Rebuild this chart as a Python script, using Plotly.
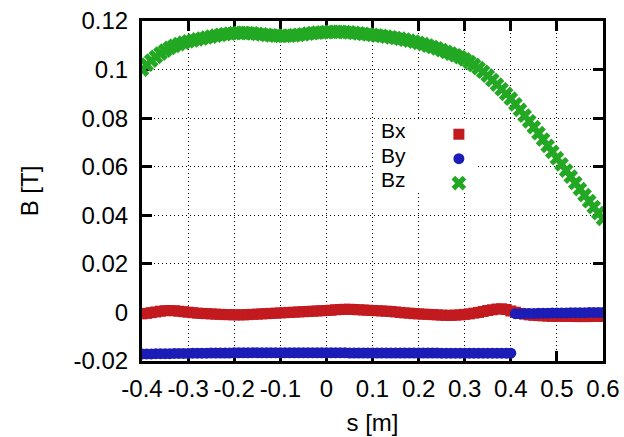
import plotly.graph_objects as go

# ---- data ----
s = [-0.40, -0.39, -0.38, -0.37, -0.36, -0.35, -0.34, -0.33, -0.32, -0.31,
     -0.30, -0.29, -0.28, -0.27, -0.26, -0.25, -0.24, -0.23, -0.22, -0.21,
     -0.20, -0.19, -0.18, -0.17, -0.16, -0.15, -0.14, -0.13, -0.12, -0.11,
     -0.10, -0.09, -0.08, -0.07, -0.06, -0.05, -0.04, -0.03, -0.02, -0.01,
     0.00, 0.01, 0.02, 0.03, 0.04, 0.05, 0.06, 0.07, 0.08, 0.09,
     0.10, 0.11, 0.12, 0.13, 0.14, 0.15, 0.16, 0.17, 0.18, 0.19,
     0.20, 0.21, 0.22, 0.23, 0.24, 0.25, 0.26, 0.27, 0.28, 0.29,
     0.30, 0.31, 0.32, 0.33, 0.34, 0.35, 0.36, 0.37, 0.38, 0.39,
     0.40, 0.41, 0.42, 0.43, 0.44, 0.45, 0.46, 0.47, 0.48, 0.49,
     0.50, 0.51, 0.52, 0.53, 0.54, 0.55, 0.56, 0.57, 0.58, 0.59, 0.60]

Bx = [-0.0006, -0.0004, -0.0001, 0.0002, 0.0005, 0.0007, 0.0008, 0.0007, 0.0005, 0.0003,
      0.0001, -0.0001, -0.0003, -0.0004, -0.0005, -0.0006, -0.0007, -0.0008, -0.0009, -0.0009,
      -0.0010, -0.0010, -0.0010, -0.0009, -0.0008, -0.0007, -0.0006, -0.0005, -0.0004, -0.0003,
      -0.0002, -0.0001, 0.0000, 0.0001, 0.0002, 0.0003, 0.0004, 0.0005, 0.0006, 0.0007,
      0.0008, 0.0009, 0.0011, 0.0012, 0.0013, 0.0013, 0.0012, 0.0011, 0.0010, 0.0009,
      0.0008, 0.0007, 0.0006, 0.0005, 0.0004, 0.0002, 0.0000, -0.0002, -0.0003, -0.0005,
      -0.0006, -0.0007, -0.0008, -0.0009, -0.0010, -0.0011, -0.0012, -0.0012, -0.0011, -0.0010,
      -0.0008, -0.0006, -0.0003, 0.0000, 0.0004, 0.0008, 0.0011, 0.0014, 0.0015, 0.0012,
      0.0006, 0.0001, -0.0004, -0.0007, -0.0010, -0.0012, -0.0013, -0.0014, -0.0015, -0.0016,
      -0.0016, -0.0016, -0.0016, -0.0016, -0.0017, -0.0017, -0.0017, -0.0017, -0.0016, -0.0016, -0.0016]

By = [-0.0171, -0.0171, -0.0171, -0.0170, -0.0170, -0.0170, -0.0170, -0.0169, -0.0169, -0.0169,
      -0.0169, -0.0168, -0.0168, -0.0168, -0.0168, -0.0167, -0.0167, -0.0167, -0.0167, -0.0167,
      -0.0166, -0.0166, -0.0166, -0.0166, -0.0166, -0.0166, -0.0166, -0.0166, -0.0166, -0.0166,
      -0.0166, -0.0166, -0.0166, -0.0166, -0.0166, -0.0166, -0.0166, -0.0166, -0.0166, -0.0166,
      -0.0166, -0.0166, -0.0166, -0.0166, -0.0166, -0.0167, -0.0167, -0.0167, -0.0167, -0.0167,
      -0.0167, -0.0167, -0.0167, -0.0167, -0.0167, -0.0167, -0.0167, -0.0167, -0.0167, -0.0167,
      -0.0167, -0.0167, -0.0167, -0.0167, -0.0167, -0.0168, -0.0168, -0.0168, -0.0168, -0.0168,
      -0.0168, -0.0168, -0.0168, -0.0168, -0.0168, -0.0168, -0.0168, -0.0168, -0.0168, -0.0168,
      -0.0168, -0.0005, -0.0005, -0.0004, -0.0004, -0.0004, -0.0003, -0.0003, -0.0003, -0.0002,
      -0.0002, -0.0002, -0.0002, -0.0001, -0.0001, -0.0001, -0.0001, 0.0000, 0.0000, 0.0000, 0.0000]

Bz = [0.1000, 0.1020, 0.1037, 0.1052, 0.1066, 0.1078, 0.1089, 0.1098, 0.1105, 0.1111,
      0.1116, 0.1120, 0.1124, 0.1128, 0.1132, 0.1136, 0.1140, 0.1143, 0.1146, 0.1148,
      0.1150, 0.1151, 0.1151, 0.1150, 0.1149, 0.1147, 0.1145, 0.1143, 0.1141, 0.1140,
      0.1139, 0.1139, 0.1140, 0.1141, 0.1143, 0.1145, 0.1148, 0.1150, 0.1152, 0.1153,
      0.1154, 0.1155, 0.1155, 0.1155, 0.1154, 0.1153, 0.1151, 0.1149, 0.1147, 0.1145,
      0.1143, 0.1141, 0.1139, 0.1136, 0.1133, 0.1130, 0.1127, 0.1123, 0.1119, 0.1115,
      0.1110, 0.1105, 0.1099, 0.1093, 0.1087, 0.1080, 0.1073, 0.1066, 0.1059, 0.1051,
      0.1042, 0.1031, 0.1019, 0.1006, 0.0991, 0.0975, 0.0957, 0.0938, 0.0919, 0.0900,
      0.0880, 0.0857, 0.0834, 0.0810, 0.0787, 0.0763, 0.0738, 0.0712, 0.0686, 0.0661,
      0.0635, 0.0610, 0.0584, 0.0559, 0.0533, 0.0508, 0.0483, 0.0458, 0.0434, 0.0409, 0.0385]

series_names = ["Bx", "By", "Bz"]
x_ticks = [-0.4, -0.3, -0.2, -0.1, 0, 0.1, 0.2, 0.3, 0.4, 0.5, 0.6]
x_tick_labels = ["-0.4", "-0.3", "-0.2", "-0.1", "0", "0.1", "0.2", "0.3", "0.4", "0.5", "0.6"]
y_ticks = [-0.02, 0, 0.02, 0.04, 0.06, 0.08, 0.1, 0.12]
y_tick_labels = ["-0.02", "0", "0.02", "0.04", "0.06", "0.08", "0.1", "0.12"]

RED = "#c21a1e"
BLUE = "#1c1cb6"
GREEN = "#22a822"
FONT = "Liberation Sans, Arial, sans-serif"
FS = 24
KEY_FS = 21

fig = go.Figure()
fig.add_trace(go.Scatter(x=s, y=Bx, mode="markers", name=" ",
                         marker=dict(symbol="square", size=11, color=RED, line=dict(width=0))))
fig.add_trace(go.Scatter(x=s, y=By, mode="markers", name=" ",
                         marker=dict(symbol="circle", size=11, color=BLUE, line=dict(width=0))))
fig.add_trace(go.Scatter(x=s, y=Bz, mode="markers", name=" ",
                         marker=dict(symbol="x", size=13, color=GREEN, line=dict(width=0))))

axis_common = dict(
    showline=True, linecolor="black", linewidth=3, mirror="ticks",
    ticks="inside", ticklen=10, tickwidth=3, tickcolor="black",
    showgrid=True, gridcolor="black", gridwidth=1, griddash="1px,3px",
    zeroline=False, layer="below traces", automargin=False,
    tickfont=dict(family=FONT, size=FS, color="black"),
)

fig.update_xaxes(range=[-0.4, 0.6], tickmode="array", tickvals=x_ticks, ticktext=x_tick_labels,
                 title=dict(text="s [m]", font=dict(family=FONT, size=FS, color="black"), standoff=14),
                 ticklabelstandoff=4, **axis_common)
fig.update_yaxes(range=[-0.02, 0.12], tickmode="array", tickvals=y_ticks, ticktext=y_tick_labels,
                 title=dict(text="B [T]", font=dict(family=FONT, size=FS, color="black"), standoff=29),
                 ticklabelstandoff=6, **axis_common)

# white box behind the key
fig.add_shape(type="rect", xref="paper", yref="paper", x0=0.501, x1=0.727, y0=0.494, y1=0.712,
              fillcolor="white", line=dict(width=0), layer="above")

label_y = [0.6765, 0.6044, 0.5324]
for name, yy in zip(series_names, label_y):
    fig.add_annotation(xref="paper", yref="paper", x=0.5163, y=yy, text=name, showarrow=False,
                       xanchor="left", yanchor="middle", borderpad=0,
                       font=dict(family=FONT, size=KEY_FS, color="black"))

fig.update_layout(
    template="none",
    width=624, height=437,
    margin=dict(l=142, r=21, t=21, b=76),
    paper_bgcolor="white", plot_bgcolor="white",
    showlegend=True,
    legend=dict(x=0.644, y=0.7176, xanchor="left", yanchor="top",
                bgcolor="rgba(0,0,0,0)", borderwidth=0, font=dict(family=FONT, size=16.5),
                itemsizing="trace"),
)

fig.write_html("out.html", config={"displayModeBar": False},
               post_script="document.body.style.margin='0';document.body.style.overflow='hidden';")
